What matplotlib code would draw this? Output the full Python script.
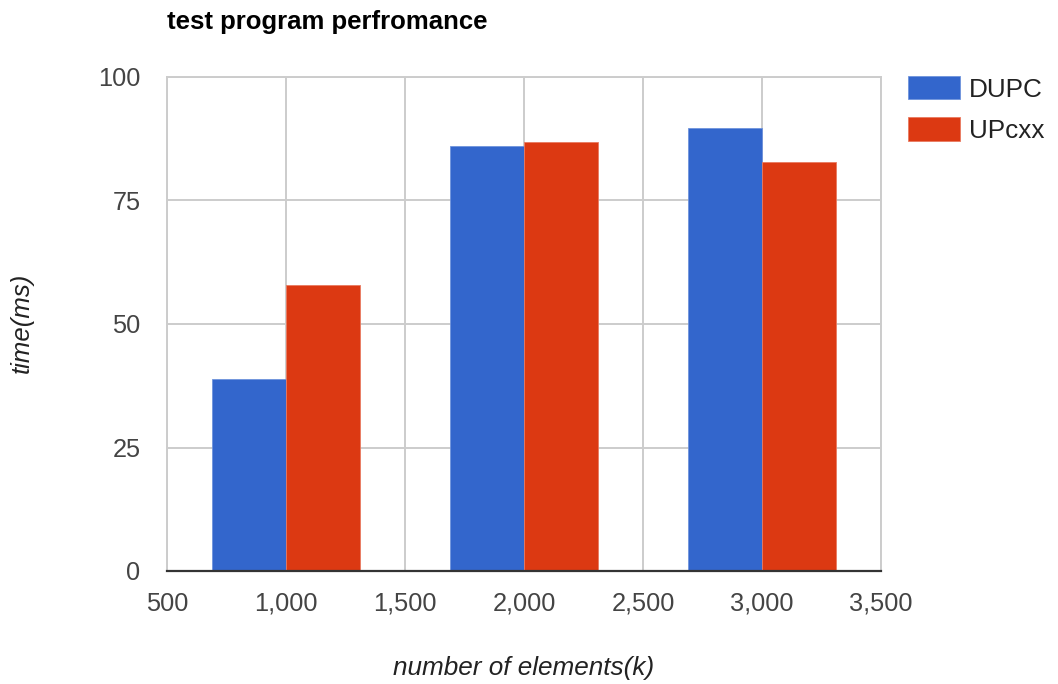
import numpy as np
import matplotlib
matplotlib.use("Agg")
import matplotlib.pyplot as plt

# element counts (k) and measured times (ms)
elements = [1000, 2000, 3000]
dupc_ms = [38.8, 86.0, 89.6]
upcxx_ms = [57.9, 86.8, 82.7]
series_names = ["DUPC", "UPcxx"]

x_ticks = [500, 1000, 1500, 2000, 2500, 3000, 3500]
y_ticks = [0, 25, 50, 75, 100]

plt.rcParams["font.family"] = ["Liberation Sans", "DejaVu Sans"]

fig = plt.figure(figsize=(10.58, 6.84), dpi=100)
ax = fig.add_axes([167 / 1058, 1 - 571 / 684, (881 - 167) / 1058, (571 - 77) / 684])

bar_w = 312
x = np.array(elements, dtype=float)
ax.bar(x - bar_w / 2, dupc_ms, width=bar_w, color="#3366cc",
       edgecolor="#6f93dc", linewidth=0.6, label=series_names[0], zorder=3)
ax.bar(x + bar_w / 2, upcxx_ms, width=bar_w, color="#dc3912",
       edgecolor="#e97a60", linewidth=0.6, label=series_names[1], zorder=3)

ax.set_xlim(500, 3500)
ax.set_ylim(0, 100)
ax.set_xticks(x_ticks)
ax.set_xticklabels([f"{v:,}" for v in x_ticks])
ax.set_yticks(y_ticks)

ax.grid(True, color="#cccccc", linewidth=1.4, zorder=0)
ax.tick_params(length=0, labelsize=18.3, colors="#444444")
ax.tick_params(axis="x", pad=15)
ax.tick_params(axis="y", pad=19)

for side in ["left", "top", "right"]:
    ax.spines[side].set_color("#cccccc")
    ax.spines[side].set_linewidth(1.4)
ax.spines["bottom"].set_color("#333333")
ax.spines["bottom"].set_linewidth(1.6)
ax.spines["bottom"].set_zorder(4)

fig.text(167 / 1058, 1 - 22 / 684, "test program perfromance", fontsize=18.5,
         fontweight="bold", color="#000000", ha="left", va="center")
fig.text(22 / 1058, 1 - 323 / 684, "time(ms)", fontsize=18.5, style="italic",
         color="#222222", rotation=90, ha="center", va="center")
fig.text(524 / 1058, 1 - 668 / 684, "number of elements(k)", fontsize=18.8,
         style="italic", color="#222222", ha="center", va="center")

leg = fig.legend(loc="upper left", bbox_to_anchor=(908 / 1058, 1 - 76 / 684),
                 frameon=False, fontsize=18.8, handlelength=2.0, handleheight=1.0,
                 handletextpad=0.34, labelspacing=0.6, borderpad=0,
                 borderaxespad=0)
for t in leg.get_texts():
    t.set_color("#222222")

fig.savefig("out.png", dpi=100)
